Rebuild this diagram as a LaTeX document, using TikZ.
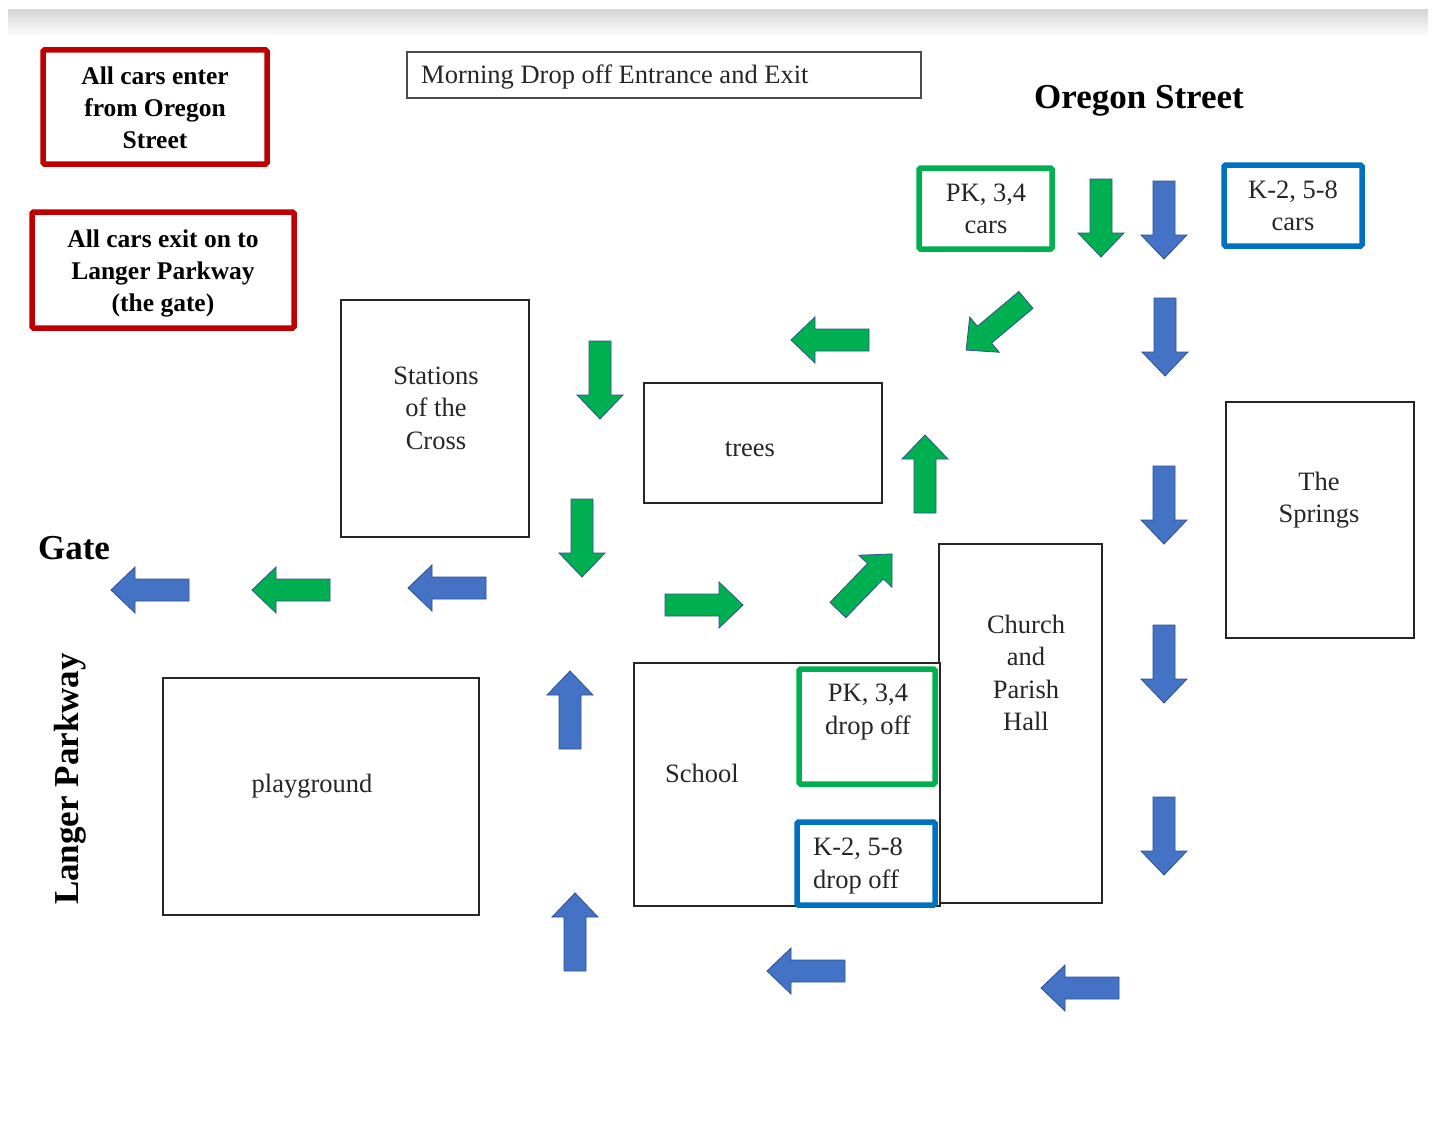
\documentclass[tikz,border=0pt]{standalone}
\usepackage{fontspec}
\setmainfont{Liberation Serif}
\definecolor{boxred}{HTML}{C00000}
\definecolor{boxgreen}{HTML}{00B050}
\definecolor{boxblue}{HTML}{0070C0}
\definecolor{arrowblue}{HTML}{4472C4}
\definecolor{arrowgreen}{HTML}{00B050}
\definecolor{arrowedge}{HTML}{2F528F}
\tikzset{
  blockarrow/.pic={\path[pic actions] (-39,-11) -- (15,-11) -- (15,-23) -- (39,0) -- (15,23) -- (15,11) -- (-39,11) -- cycle;},
  barrow/.style={fill=arrowblue, draw=arrowedge, line width=0.8pt},
  garrow/.style={fill=arrowgreen, draw=arrowedge, line width=0.8pt},
  plainbox/.style={draw=black!85, line width=1.6pt, fill=white, inner sep=0pt},
  colbox/.style={draw=#1, line width=5.5pt, fill=white, inner sep=0pt, rounded corners=1.5pt},
  txt/.style={font=\fontsize{26.5}{32.5}\selectfont, align=center, inner sep=0pt, text=black!85},
  btxt/.style={font=\fontsize{25.5}{32}\selectfont\bfseries, align=center, inner sep=0pt},
  bigtxt/.style={font=\fontsize{35}{40}\selectfont\bfseries, inner sep=0pt}
}
\begin{document}
\begin{tikzpicture}[x=1pt,y=-1pt]
\useasboundingbox[fill=white] (0,0) rectangle (1435,1132);
% top grey band
\shade[top color=black!16, bottom color=white] (8,10) rectangle (1428,37);

% red notes
\node[colbox=boxred, minimum width=224pt, minimum height=114pt] (enter) at (155,107) {};
\node[btxt] (entertxt) at (155,108) {All cars enter\\from Oregon\\Street};
\node[colbox=boxred, minimum width=262pt, minimum height=116pt] (exit) at (163,270) {};
\node[btxt] (exittxt) at (163,273) {All cars exit on to\\Langer Parkway\\(the gate)};

% title box
\node[draw=black!70, line width=1.2pt, minimum width=514pt, minimum height=46pt, inner sep=0pt] (title) at (664,75) {};
\node[txt, anchor=west] (titletxt) at (421,77) {Morning Drop off Entrance and Exit};

% street labels
\node[bigtxt] (oregon) at (1139,101) {Oregon Street};
\node[bigtxt] (gate) at (74,548) {Gate};
\node[bigtxt, rotate=90] (langer) at (70,779) {Langer Parkway};

% car boxes
\node[colbox=boxgreen, minimum width=133pt, minimum height=81pt] (pkcars) at (985.5,208.5) {};
\node[txt] (pkcarstxt) at (986,209) {PK, 3,4\\cars};
\node[colbox=boxblue, minimum width=138pt, minimum height=81pt] (kcars) at (1293,205.5) {};
\node[txt] (kcarstxt) at (1293,206) {K-2, 5-8\\cars};

% buildings
\node[plainbox, minimum width=188pt, minimum height=237pt] (stations) at (435,418.5) {};
\node[txt] (stationstxt) at (436,408) {Stations\\of the\\Cross};
\node[plainbox, minimum width=238pt, minimum height=120pt] (trees) at (763,443) {};
\node[txt] (treestxt) at (750,449) {trees};
\node[plainbox, minimum width=188pt, minimum height=236pt] (springs) at (1320,520) {};
\node[txt] (springstxt) at (1319,500) {The\\Springs};
\node[plainbox, minimum width=163pt, minimum height=359pt] (church) at (1020.5,723.5) {};
\node[txt] (churchtxt) at (1026,673) {Church\\and\\Parish\\Hall};
\node[plainbox, minimum width=306pt, minimum height=243pt] (school) at (787,784.5) {};
\node[txt] (schooltxt) at (702,773) {School};
\node[plainbox, minimum width=316pt, minimum height=237pt] (playground) at (321,796.5) {};
\node[txt] (playgroundtxt) at (312,786) {playground};

% drop off boxes
\node[colbox=boxgreen, minimum width=136pt, minimum height=115pt] (pkdrop) at (867,726.5) {};
\node[txt] (pkdroptxt) at (868,712) {PK, 3,4\\drop off};
\node[colbox=boxblue, minimum width=138pt, minimum height=83pt] (kdrop) at (866,863.5) {};
\node[txt, align=left, anchor=west] (kdroptxt) at (813,866) {K-2, 5-8\\drop off};

% arrows: entry on Oregon Street
\pic[garrow, rotate=-90] (g1) at (1101,218) {blockarrow};
\pic[barrow, rotate=-90] (b1) at (1164,220) {blockarrow};
% blue route down the east side
\pic[barrow, rotate=-90] (b2) at (1165,337) {blockarrow};
\pic[barrow, rotate=-90] (b3) at (1164,505) {blockarrow};
\pic[barrow, rotate=-90] (b4) at (1164,664) {blockarrow};
\pic[barrow, rotate=-90] (b5) at (1164,836) {blockarrow};
\pic[barrow, rotate=180] (b6) at (1080,988) {blockarrow};
\pic[barrow, rotate=180] (b7) at (806,971) {blockarrow};
\pic[barrow, rotate=90] (b8) at (575,932) {blockarrow};
\pic[barrow, rotate=90] (b9) at (570,710) {blockarrow};
\pic[barrow, rotate=180] (b10) at (447,588) {blockarrow};
\pic[barrow, rotate=180] (b11) at (150,590) {blockarrow};
% green route
\pic[garrow, rotate=-140] (g2) at (996,325) {blockarrow};
\pic[garrow, rotate=180] (g3) at (830,340) {blockarrow};
\pic[garrow, rotate=-90] (g4) at (600,380) {blockarrow};
\pic[garrow, rotate=-90] (g5) at (582,538) {blockarrow};
\pic[garrow] (g6) at (704,605) {blockarrow};
\pic[garrow, rotate=46] (g7) at (865,582) {blockarrow};
\pic[garrow, rotate=90] (g8) at (925,474) {blockarrow};
\pic[garrow, rotate=180] (g9) at (291,590) {blockarrow};
\end{tikzpicture}
\end{document}
